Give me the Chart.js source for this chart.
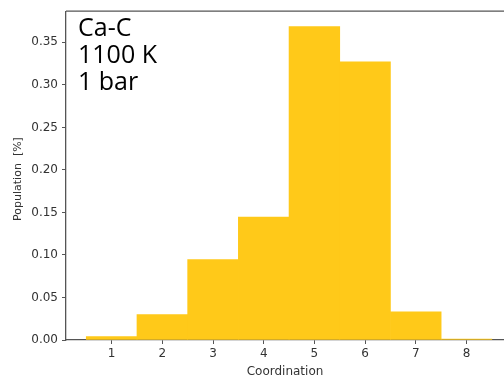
<!DOCTYPE html>
<html>
<head>
<meta charset="utf-8">
<script src="https://cdn.jsdelivr.net/npm/chart.js@4"></script>
<style>
  html, body { margin: 0; padding: 0; background: #fff; overflow: hidden; }
  #wrap { position: relative; width: 504px; height: 385px; }
  #note { position: absolute; left: 78px; top: 13px; font-family: "Open Sans", "Noto Sans", sans-serif;
          font-size: 25px; line-height: 27px; color: #000; }
</style>
</head>
<body>
<div id="wrap">
  <canvas id="c" width="504" height="385"></canvas>
  <div id="note">Ca-C<br>1100 K<br>1 bar</div>
</div>
<script>
// Coordination histogram (population fraction per coordination number)
const coordination = [1, 2, 3, 4, 5, 6, 7, 8];
const population = [0.004, 0.030, 0.0945, 0.1445, 0.3685, 0.327, 0.033, 0.001];
const yTicks = [0.00, 0.05, 0.10, 0.15, 0.20, 0.25, 0.30, 0.35];
const xTicks = [1, 2, 3, 4, 5, 6, 7, 8];
const yTitle = 'Population  [%]';

const axisColor = '#555';
const textColor = '#333';
const tickFont = { family: 'DejaVu Sans', size: 12 };

// top spine of the axes box and the rotated y-axis title
const frameExtras = {
  id: 'frameExtras',
  afterDraw(chart) {
    const { ctx, chartArea } = chart;
    ctx.save();
    ctx.strokeStyle = axisColor;
    ctx.lineWidth = 1.3;
    ctx.beginPath();
    ctx.moveTo(chartArea.left, chartArea.top);
    ctx.lineTo(chartArea.right, chartArea.top);
    ctx.stroke();

    ctx.translate(18, 179);
    ctx.rotate(-Math.PI / 2);
    ctx.fillStyle = textColor;
    ctx.font = '11px "DejaVu Sans"';
    ctx.textAlign = 'center';
    ctx.textBaseline = 'middle';
    ctx.fillText(yTitle, 0, 0);
    ctx.restore();
  }
};

new Chart(document.getElementById('c'), {
  type: 'bar',
  data: {
    datasets: [{
      data: coordination.map((c, i) => ({ x: c, y: population[i] })),
      backgroundColor: '#FFC919',
      borderWidth: 0,
      barPercentage: 1,
      categoryPercentage: 1
    }]
  },
  options: {
    responsive: false,
    animation: false,
    layout: { padding: { top: 7, right: 0, left: 0, bottom: 0 } },
    plugins: { legend: { display: false }, tooltip: { enabled: false } },
    scales: {
      x: {
        type: 'linear',
        min: 0.1,
        max: 8.74,
        offset: false,
        afterBuildTicks: s => { s.ticks = xTicks.map(v => ({ value: v })); },
        afterFit: s => { s.height = 45; },
        grid: { display: true, drawOnChartArea: false, drawTicks: true, tickLength: 4, color: axisColor, offset: false, lineWidth: 1 },
        border: { display: true, color: axisColor, width: 1.3 },
        ticks: { font: tickFont, color: textColor, padding: 3, maxRotation: 0, autoSkip: false, callback: v => String(v) },
        title: { display: true, text: 'Coordination', font: tickFont, color: textColor, padding: { top: 2, bottom: 6 } }
      },
      y: {
        min: 0,
        max: 0.3866,
        afterBuildTicks: s => { s.ticks = yTicks.map(v => ({ value: v })); },
        afterFit: s => { s.width = 66; },
        grid: { display: true, drawOnChartArea: false, drawTicks: true, tickLength: 4, color: axisColor, lineWidth: 1 },
        border: { display: true, color: axisColor, width: 1.3 },
        ticks: { font: tickFont, color: textColor, padding: 4, callback: v => Number(v).toFixed(2) }
      }
    }
  },
  plugins: [frameExtras]
});
</script>
</body>
</html>
